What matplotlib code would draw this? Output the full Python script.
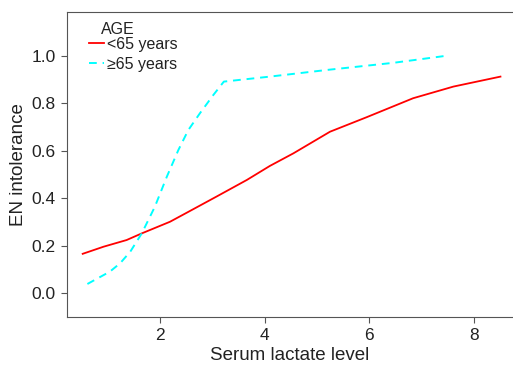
import matplotlib.pyplot as plt

# values
lac_young = [0.52, 0.92, 1.36, 1.65, 2.19, 2.51, 3.08, 3.66, 4.10, 4.55, 5.25, 5.95, 6.84, 7.61, 8.51]
p_young = [0.166, 0.196, 0.224, 0.252, 0.301, 0.339, 0.407, 0.477, 0.536, 0.589, 0.680, 0.741, 0.821, 0.870, 0.912]

lac_old = [0.61, 1.04, 1.235, 1.43, 1.65, 1.90, 2.13, 2.35, 2.54, 2.76, 3.02, 3.22, 4.10, 5.19, 6.46, 7.45]
p_old = [0.039, 0.091, 0.126, 0.175, 0.252, 0.364, 0.491, 0.603, 0.687, 0.757, 0.835, 0.891, 0.912, 0.940, 0.970, 0.999]

plt.rcParams['font.family'] = ['Liberation Sans', 'DejaVu Sans']

fig = plt.figure(figsize=(5.13, 3.65), dpi=100)
ax = fig.add_axes([67 / 513, 1 - 317 / 365, (513 - 67) / 513, (317 - 12) / 365])

ax.plot(lac_young, p_young, color='red', lw=1.3, label='<65 years')
ax.plot(lac_old, p_old, color='cyan', lw=1.4, ls=(0, (4, 3)), label='≥65 years')

ax.set_xlim(0.22, 8.75)
ax.set_ylim(-0.1, 1.184)
ax.set_xticks([2, 4, 6, 8])
ax.set_yticks([0.0, 0.2, 0.4, 0.6, 0.8, 1.0])
ax.set_yticklabels(['0.0', '0.2', '0.4', '0.6', '0.8', '1.0'])

for s in ['left', 'bottom', 'top']:
    ax.spines[s].set_color('#555555')
ax.spines['right'].set_visible(False)
ax.tick_params(colors='#555555', labelcolor='#222222', labelsize=12.5, length=4, width=0.8, pad=4)

ax.set_xlabel('Serum lactate level', fontsize=13.5, color='#222222', labelpad=3)
ax.set_ylabel('EN intolerance', fontsize=13.5, color='#222222', labelpad=3)

# legend title drawn separately so it sits indented like the original
ax.text(0.076, 0.942, 'AGE', transform=ax.transAxes, fontsize=11.5, color='#222222', va='center')
leg = ax.legend(loc='upper left', bbox_to_anchor=(0.05, 0.918), frameon=False,
                fontsize=11.5, handlelength=0.95, handletextpad=0.15,
                labelspacing=0.3, borderaxespad=0, borderpad=0)
for t in leg.get_texts():
    t.set_color('#222222')

fig.savefig('out.png', dpi=100)
